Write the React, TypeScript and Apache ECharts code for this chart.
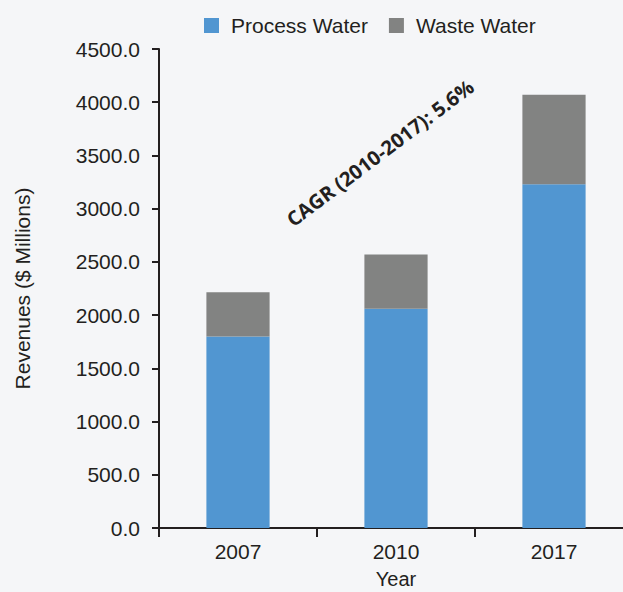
import React, { useEffect, useRef } from "react";
import * as echarts from "echarts";

const categories = ["2007", "2010", "2017"];
const processWater = [1800, 2060, 3230];
const wasteWater = [415, 510, 840];
const seriesNames = ["Process Water", "Waste Water"];
const annotation = "CAGR (2010-2017): 5.6%";

export default function App() {
  const ref = useRef<HTMLDivElement>(null);
  useEffect(() => {
    document.body.style.margin = "0";
    const chart = echarts.init(ref.current!, null, { renderer: "svg" });
    const font = "'Liberation Sans', Arial, sans-serif";
    const dark = "#231f20";
    chart.setOption({
      animation: false,
      backgroundColor: "#f5f6f8",
      textStyle: { fontFamily: font },
      legend: {
        left: 199,
        top: 10,
        itemWidth: 15,
        itemHeight: 15,
        itemGap: 21,
        icon: "rect",
        textStyle: { fontSize: 21, color: dark, fontFamily: font, padding: [0, 0, 0, 7] },
        data: seriesNames,
      },
      grid: { left: 159, top: 49, bottom: 64, right: -10, outerBoundsMode: "none" },
      xAxis: {
        type: "category",
        data: categories,
        name: "Year",
        nameLocation: "middle",
        nameGap: 41,
        nameTextStyle: { fontSize: 20, color: dark, fontFamily: font },
        axisLine: { lineStyle: { color: dark, width: 2 } },
        axisTick: { show: true, length: 9, lineStyle: { color: dark, width: 2 }, alignWithLabel: false },
        axisLabel: { fontSize: 21, color: dark, margin: 13, fontFamily: font },
      },
      yAxis: {
        type: "value",
        min: 0,
        max: 4500,
        interval: 500,
        name: "Revenues ($ Millions)",
        nameLocation: "middle",
        nameRotate: 90,
        nameGap: 126,
        nameTextStyle: { fontSize: 21, color: dark, fontFamily: font },
        axisLine: { show: true, lineStyle: { color: dark, width: 2 } },
        axisTick: { show: true, length: 7, lineStyle: { color: dark, width: 2 } },
        splitLine: { show: false },
        axisLabel: {
          fontSize: 21,
          color: dark,
          margin: 19,
          fontFamily: font,
          formatter: (v: number) => v.toFixed(1),
        },
      },
      series: [
        {
          name: seriesNames[0],
          type: "bar",
          stack: "total",
          data: processWater,
          barWidth: "40%",
          itemStyle: { color: "#5196d1" },
        },
        {
          name: seriesNames[1],
          type: "bar",
          stack: "total",
          data: wasteWater,
          barWidth: "40%",
          itemStyle: { color: "#828382" },
        },
      ],
      graphic: [
        {
          type: "text",
          x: 380,
          y: 153,
          rotation: 0.646,
          style: {
            text: annotation,
            fontSize: 20,
            fontWeight: "bold",
            fontFamily: "'Open Sans', sans-serif",
            fill: dark,
            align: "center",
            verticalAlign: "middle",
          },
        },
      ],
    });
    return () => chart.dispose();
  }, []);
  return <div ref={ref} style={{ width: 623, height: 592 }} />;
}
